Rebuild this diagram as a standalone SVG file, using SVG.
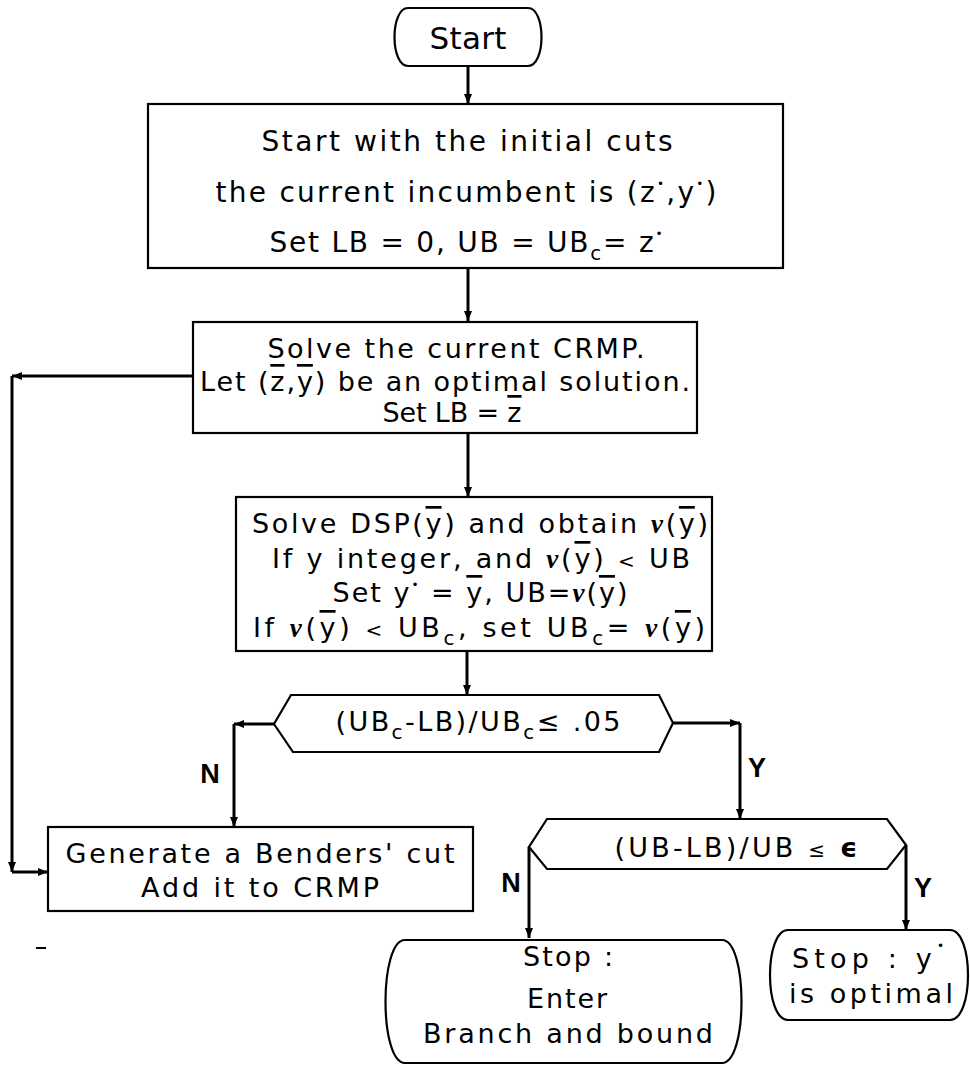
<svg xmlns="http://www.w3.org/2000/svg" width="970" height="1066" viewBox="0 0 970 1066">
<style>
text{font-family:"DejaVu Sans","Liberation Sans",sans-serif;font-size:27px;fill:#000;text-anchor:middle}
.big{font-size:28px}
.shape{fill:#fff;stroke:#000;stroke-width:2.2}
.conn{fill:none;stroke:#000;stroke-width:3;marker-end:url(#ah)}
.ol{text-decoration:overline}
.nu{font-family:"Liberation Serif",serif;font-style:italic;font-weight:bold}
.sub{font-size:20px}
.dot{font-size:12px}
.lbl{font-family:"Liberation Sans",Arial,sans-serif;font-weight:bold;font-size:27px}
</style>
<defs>
<marker id="ah" viewBox="0 0 10 8" refX="10" refY="4" markerWidth="10" markerHeight="8" markerUnits="userSpaceOnUse" orient="auto">
<path d="M0,0 L10,4 L0,8 Z" fill="#000"/>
</marker>
</defs>
<rect width="970" height="1066" fill="#fff"/>

<g id="connectors">
<path class="conn" d="M468,66 V104"/>
<path class="conn" d="M468,268 V321"/>
<path class="conn" d="M468,433 V497"/>
<path class="conn" d="M467,651 V695"/>
<path class="conn" d="M274,724 H234"/>
<path class="conn" d="M234,724 V827"/>
<path class="conn" d="M673,723 H740"/>
<path class="conn" d="M740,723 V819"/>
<path class="conn" d="M193,376 H12"/>
<path class="conn" d="M12,376 V872"/>
<path class="conn" d="M12,872 H48"/>
<path class="conn" d="M529,847 V938"/>
<path class="conn" d="M906,845 V930"/>
<text class="lbl" x="210" y="783">N</text>
<text class="lbl" x="757" y="777">Y</text>
<text class="lbl" x="511" y="892">N</text>
<text class="lbl" x="923" y="897">Y</text>
</g>

<g id="start">
<path class="shape" stroke-width="3" d="M408,8 H528 C546,8 546,66 528,66 H408 C390,66 390,8 408,8 Z"/>
<text x="468" y="49" style="font-size:31px" textLength="77" lengthAdjust="spacing">Start</text>
</g>

<g id="init">
<rect class="shape" x="148" y="104" width="635" height="164"/>
<text class="big" x="467" y="151" textLength="411" lengthAdjust="spacing">Start with the initial cuts</text>
<text class="big" x="466" y="202" textLength="501" lengthAdjust="spacing">the current incumbent is (z<tspan class="dot" dy="-14">•</tspan><tspan dy="14">,y</tspan><tspan class="dot" dy="-14">•</tspan><tspan dy="14">)</tspan></text>
<text class="big" x="466" y="252" textLength="393" lengthAdjust="spacing">Set LB = 0, UB = UB<tspan class="sub" dy="8">c</tspan><tspan dy="-8">= z</tspan><tspan class="dot" dy="-14">•</tspan></text>
</g>

<g id="crmp">
<rect class="shape" x="193" y="322" width="504" height="111"/>
<text x="456" y="358" textLength="377" lengthAdjust="spacing">Solve the current CRMP.</text>
<text x="445" y="391" textLength="490" lengthAdjust="spacing">Let (<tspan class="ol">z</tspan>,<tspan class="ol">y</tspan>) be an optimal solution.</text>
<text x="452" y="422" textLength="139" lengthAdjust="spacing">Set LB = <tspan class="ol">z</tspan></text>
</g>

<g id="dsp">
<rect class="shape" x="236" y="497" width="476" height="154"/>
<text x="480" y="533" textLength="456" lengthAdjust="spacing">Solve DSP(<tspan class="ol">y</tspan>) and obtain <tspan class="nu">ν</tspan>(<tspan class="ol">y</tspan>)</text>
<text x="481" y="568" textLength="418" lengthAdjust="spacing">If y integer, and <tspan class="nu">ν</tspan>(<tspan class="ol">y</tspan>) <tspan class="sub">&lt;</tspan> UB</text>
<text x="480" y="602" textLength="295" lengthAdjust="spacing">Set y<tspan class="dot" dy="-13">•</tspan><tspan dy="13"> = </tspan><tspan class="ol">y</tspan>, UB=<tspan class="nu">ν</tspan>(<tspan class="ol">y</tspan>)</text>
<text x="479" y="637" textLength="452" lengthAdjust="spacing">If <tspan class="nu">ν</tspan>(<tspan class="ol">y</tspan>) <tspan class="sub">&lt;</tspan> UB<tspan class="sub" dy="8">c</tspan><tspan dy="-8">, set UB</tspan><tspan class="sub" dy="8">c</tspan><tspan dy="-8">= </tspan><tspan class="nu">ν</tspan>(<tspan class="ol">y</tspan>)</text>
</g>

<g id="test1">
<polygon class="shape" points="291,695 659,695 673,723 659,752 293,752 274,724"/>
<text x="478" y="731" textLength="285" lengthAdjust="spacing">(UB<tspan class="sub" dy="8">c</tspan><tspan dy="-8">-LB)/UB</tspan><tspan class="sub" dy="8">c</tspan><tspan dy="-8">≤ .05</tspan></text>
</g>

<g id="benders">
<rect class="shape" x="48" y="827" width="425" height="84"/>
<text x="260" y="863" textLength="389" lengthAdjust="spacing">Generate a Benders' cut</text>
<text x="260" y="897" textLength="238" lengthAdjust="spacing">Add it to CRMP</text>
</g>

<g id="test2">
<polygon class="shape" points="547,819 887,819 906,845 887,869 547,869 529,847"/>
<text x="736" y="857" textLength="243" lengthAdjust="spacing">(UB-LB)/UB <tspan class="sub">≤</tspan> <tspan font-weight="bold">ϵ</tspan></text>
</g>

<g id="stop-bb">
<path class="shape" stroke-width="2.6" d="M405,940 H722 C748,940 748,1063 722,1063 H405 C379,1063 379,940 405,940 Z"/>
<text x="568" y="966" textLength="90" lengthAdjust="spacing">Stop :</text>
<text x="567" y="1008" textLength="80" lengthAdjust="spacing">Enter</text>
<text x="568" y="1043" textLength="290" lengthAdjust="spacing">Branch and bound</text>
</g>

<g id="stop-opt">
<path class="shape" stroke-width="2.6" d="M788,930 H950 C974,930 974,1020 950,1020 H788 C764,1020 764,930 788,930 Z"/>
<text x="868" y="968" textLength="152" lengthAdjust="spacing">Stop : y<tspan class="dot" dy="-18">•</tspan></text>
<text x="871" y="1003" textLength="164" lengthAdjust="spacing">is optimal</text>
</g>

<line x1="36" y1="948" x2="46" y2="948" stroke="#000" stroke-width="2"/>
</svg>
